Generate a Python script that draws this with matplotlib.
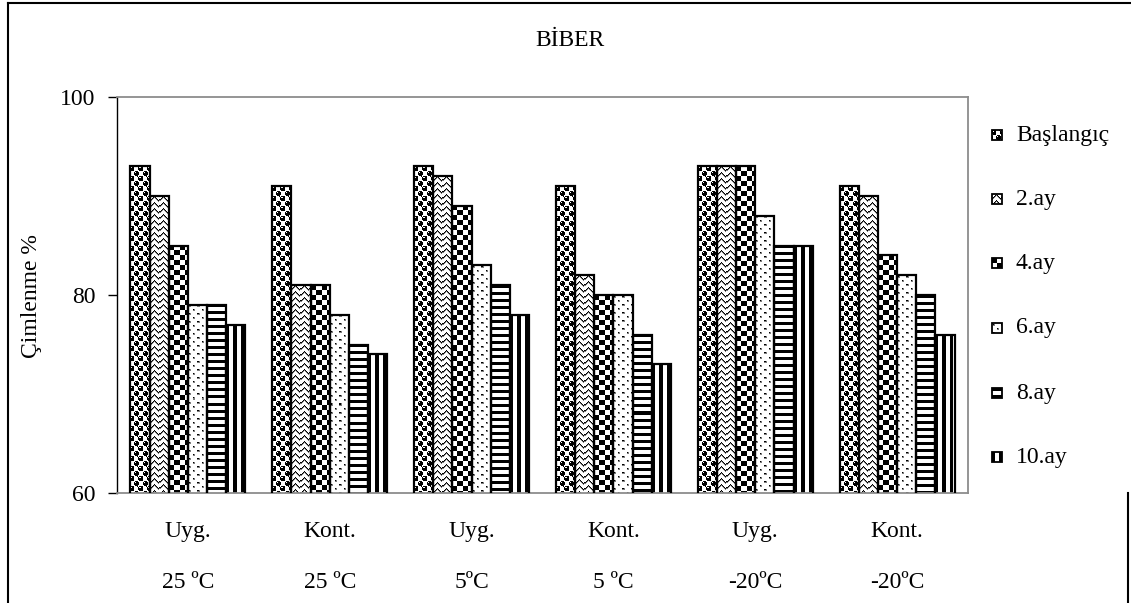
import numpy as np
import matplotlib
matplotlib.use('Agg')
import matplotlib.pyplot as plt

plt.rcParams['font.family'] = ['Liberation Serif', 'DejaVu Serif']

# germination (%) per treatment, one list per storage time
groups = ['Uyg.', 'Kont.', 'Uyg.', 'Kont.', 'Uyg.', 'Kont.']
temps = ['25 \u00baC', '25 \u00baC', '5\u00baC', '5 \u00baC', '-20\u00baC', '-20\u00baC']
series = ['Başlangıç', '2.ay', '4.ay', '6.ay', '8.ay', '10.ay']
baslangic = [93, 91, 93, 91, 93, 91]
ay2 = [90, 81, 92, 82, 93, 90]
ay4 = [85, 81, 89, 80, 93, 84]
ay6 = [79, 78, 83, 80, 88, 82]
ay8 = [79, 75, 81, 76, 85, 80]
ay10 = [77, 74, 78, 73, 85, 76]
values = [baslangic, ay2, ay4, ay6, ay8, ay10]
y_ticks = [60, 80, 100]

fs = 17


def tile(rows):
    lut = {'#': 1.0, '+': 0.5}
    return np.array([[lut.get(c, 0.0) for c in r] for r in rows])


# pixel fill patterns for each series
patterns = [
    tile([".###...#",
          "#.##....",
          "####....",
          "####....",
          ".###....",
          ".....###",
          "#...#.##",
          "#...####",
          "#...####",
          ".....###"]),
    tile(["....#...",
          "...#+#..",
          "..#+.+#.",
          ".#+...+#",
          "#+.....+",
          "+......."]),
    tile(["#####.....",
          "#####.....",
          "#####.....",
          "#####.....",
          "#####.....",
          ".....#####",
          ".....#####",
          ".....#####",
          ".....#####",
          ".....#####"]),
    tile(["........",
          ".#+.....",
          ".++.....",
          "........",
          "........",
          ".....#+.",
          ".....++.",
          "........"]),
    tile(["#", "#", "#", ".", ".", ".", "."]),
    tile(["###...."]),
]


def fill(p, h, w):
    h = max(int(round(h)), 1)
    w = max(int(round(w)), 1)
    reps = (h // p.shape[0] + 1, w // p.shape[1] + 1)
    return np.tile(p, reps)[:h, :w]


W, H = 1131, 603
fig = plt.figure(figsize=(W / 100, H / 100), dpi=100)
ax_l, ax_r, ax_t, ax_b = 117, 968, 97, 493
ax = fig.add_axes([ax_l / W, 1 - ax_b / H, (ax_r - ax_l) / W, (ax_b - ax_t) / H])

x = np.arange(len(groups))
xmin, xmax = -0.5, len(groups) - 0.5
ymin, ymax = 60, 100
px_x = (ax_r - ax_l) / (xmax - xmin)
px_y = (ax_b - ax_t) / (ymax - ymin)
width = 0.135

for j, vals in enumerate(values):
    bars = ax.bar(x + (j - 2.5) * width, vals, width=width, fill=False,
                  edgecolor='black', linewidth=1.6, zorder=3)
    for r in bars:
        x0 = r.get_x()
        top = r.get_height()
        img = fill(patterns[j], (top - ymin) * px_y, r.get_width() * px_x)
        ax.imshow(img, extent=[x0, x0 + r.get_width(), ymin, top], cmap='gray_r',
                  vmin=0, vmax=1, interpolation='nearest', aspect='auto', zorder=2)

ax.set_xlim(xmin, xmax)
ax.set_ylim(ymin, ymax)
ax.set_yticks(y_ticks)
ax.set_yticklabels([str(t) for t in y_ticks], fontsize=fs)
ax.tick_params(axis='y', direction='out', length=6.5, width=1, pad=9)
ax.set_xticks([])
for s in ['top', 'right', 'bottom']:
    ax.spines[s].set_color('#8c8c8c')
    ax.spines[s].set_linewidth(1.3)
ax.spines['left'].set_color('black')
ax.spines['left'].set_linewidth(1)

trans = ax.get_xaxis_transform()
for i in range(len(groups)):
    ax.text(x[i], -0.096, groups[i], transform=trans, ha='center', va='center', fontsize=fs)
    ax.text(x[i], -0.225, temps[i], transform=trans, ha='center', va='center', fontsize=fs)

fig.text(31 / W, 1 - 296 / H, 'Çimlenme %', rotation=90, ha='center', va='center', fontsize=fs)
fig.text(570 / W, 1 - 41 / H, 'BİBER', ha='center', va='center', fontsize=fs)

# legend and chart border, drawn in pixel coordinates
ov = fig.add_axes([0, 0, 1, 1])
ov.set_xlim(0, W)
ov.set_ylim(H, 0)
ov.axis('off')
ov.patch.set_alpha(0)

leg_y = [135, 199, 263, 328, 393, 457]
for j, name in enumerate(series):
    yc = leg_y[j]
    icon = fill(patterns[j], 10, 10)
    ov.imshow(icon, extent=[992, 1002, yc + 5, yc - 5], cmap='gray_r', vmin=0, vmax=1,
              interpolation='nearest', aspect='auto')
    ov.add_patch(plt.Rectangle((992, yc - 5), 10, 10, fill=False, edgecolor='black', linewidth=1.3))
    ov.text(1016, yc, name, ha='left', va='center', fontsize=fs)

ov.plot([8, 8], [3, H], color='black', linewidth=1.5)
ov.plot([8, W], [3, 3], color='black', linewidth=1.5)
ov.plot([1128, 1128], [493, H], color='black', linewidth=1.5)
ov.set_xlim(0, W)
ov.set_ylim(H, 0)

fig.savefig('out.png', dpi=100)
